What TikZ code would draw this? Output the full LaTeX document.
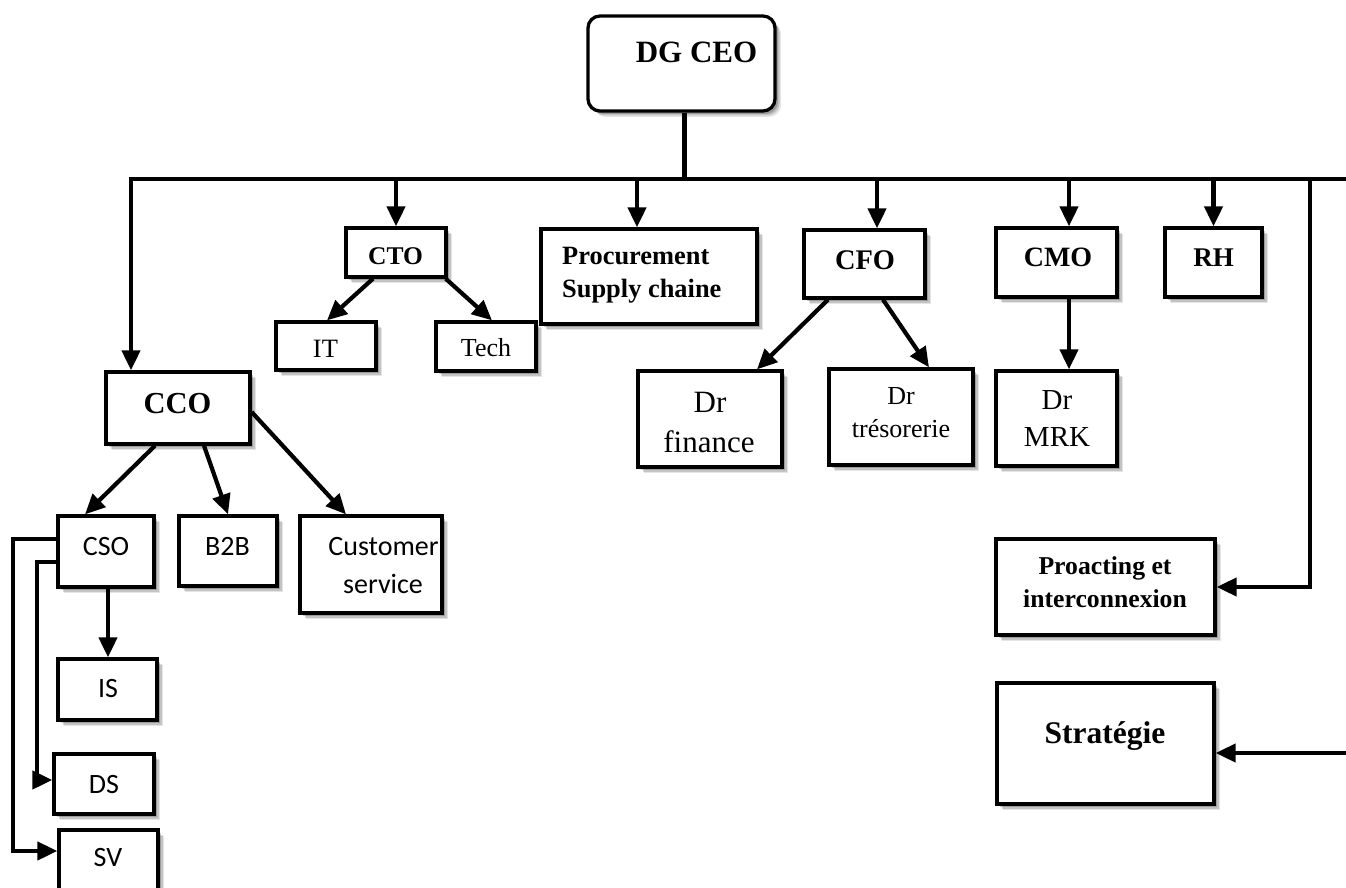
\documentclass[tikz,border=0pt]{standalone}
\usepackage{fontspec}
\setmainfont{Liberation Serif}
\newfontfamily\calib{Carlito}
\usetikzlibrary{arrows.meta,shadows,calc}
\begin{document}
\begin{tikzpicture}[x=1pt,y=-1pt,
  soft shadow/.style={
    drop shadow={shadow xshift=6pt, shadow yshift=-6pt, fill=black, opacity=0.10},
    drop shadow={shadow xshift=4.5pt, shadow yshift=-4.5pt, fill=black, opacity=0.15},
    drop shadow={shadow xshift=3pt, shadow yshift=-3pt, fill=black, opacity=0.2}},
  box/.style={draw, line width=3.3pt, fill=white, inner sep=0pt, soft shadow},
  conn/.style={line width=4.2pt, -{Triangle[length=20pt,width=18pt]}},
  wire/.style={line width=4.2pt},
  lbl/.style={anchor=base, inner sep=0pt},
  tb/.style={lbl, font=\fontsize{#1}{#1}\selectfont\bfseries},
  tr/.style={lbl, font=\fontsize{#1}{#1}\selectfont},
  tc/.style={lbl, font=\fontsize{#1}{#1}\selectfont\calib}]
\useasboundingbox (0,0) rectangle (1346,888);

% boxes
\node[box, rounded corners=12pt, minimum width=187pt, minimum height=95pt] (ceo) at (681.5,63.5) {};
\node[box, minimum width=100pt, minimum height=49pt] (cto) at (396,252.5) {};
\node[box, minimum width=100pt, minimum height=48pt] (it) at (326,346) {};
\node[box, minimum width=100pt, minimum height=49pt] (tech) at (486,346.5) {};
\node[box, minimum width=144pt, minimum height=72pt] (cco) at (178,408) {};
\node[box, minimum width=216pt, minimum height=95pt] (proc) at (649,276.5) {};
\node[box, minimum width=121pt, minimum height=68pt] (cfo) at (864.5,264) {};
\node[box, minimum width=144pt, minimum height=96pt] (drfin) at (710,419) {};
\node[box, minimum width=144pt, minimum height=96pt] (drtres) at (901,417) {};
\node[box, minimum width=121pt, minimum height=69pt] (cmo) at (1056.5,262.5) {};
\node[box, minimum width=97pt, minimum height=69pt] (rh) at (1213.5,262.5) {};
\node[box, minimum width=121pt, minimum height=95pt] (drmrk) at (1056.5,418.5) {};
\node[box, minimum width=219pt, minimum height=96pt] (proact) at (1105.5,587) {};
\node[box, minimum width=217pt, minimum height=121pt] (strat) at (1105.5,743.5) {};
\node[box, minimum width=96pt, minimum height=71pt] (cso) at (106,551.5) {};
\node[box, minimum width=98pt, minimum height=70pt] (b2b) at (228,551) {};
\node[box, minimum width=142pt, minimum height=97pt] (cust) at (371,564.5) {};
\node[box, minimum width=99pt, minimum height=61pt] (is) at (107.5,689.5) {};
\node[box, minimum width=100pt, minimum height=60pt] (ds) at (104,784) {};
\node[box, minimum width=99pt, minimum height=72pt] (sv) at (108.5,866) {};

% labels
\node[tb=31] (ceo-t) at (696.5,63) {DG CEO};
\node[tb=25.5] (cto-t) at (395.5,264) {CTO};
\node[tr=26.5] (it-t) at (325.5,357) {IT};
\node[tr=26] (tech-t) at (486,356) {Tech};
\node[tb=30.5] (cco-t) at (177.5,413) {CCO};
\node[tb=26.4, anchor=base west] (proc-t1) at (562,264) {Procurement};
\node[tb=26.4, anchor=base west] (proc-t2) at (562,297) {Supply chaine};
\node[tb=28.4] (cfo-t) at (865,269) {CFO};
\node[tr=31] (drfin-t1) at (710,412) {Dr};
\node[tr=31] (drfin-t2) at (709,452) {finance};
\node[tr=26] (drtres-t1) at (901,404) {Dr};
\node[tr=26] (drtres-t2) at (901,437) {trésorerie};
\node[tb=28] (cmo-t) at (1058,266) {CMO};
\node[tb=27] (rh-t) at (1213.5,266) {RH};
\node[tr=29] (drmrk-t1) at (1057,409) {Dr};
\node[tr=29] (drmrk-t2) at (1057,446) {MRK};
\node[tb=25.7] (proact-t1) at (1105,574) {Proacting et};
\node[tb=25.7] (proact-t2) at (1105,607) {interconnexion};
\node[tb=31.5] (strat-t) at (1105,743) {Stratégie};
\node[tc=28] (cso-t) at (106,555) {CSO};
\node[tc=28] (b2b-t) at (227.5,555) {B2B};
\node[tc=28] (cust-t1) at (383.5,555) {Customer};
\node[tc=28] (cust-t2) at (383,593) {service};
\node[tc=28] (is-t) at (108,697) {IS};
\node[tc=28] (ds-t) at (104,793) {DS};
\node[tc=28] (sv-t) at (108,866) {SV};

% attachment points
\coordinate (busL) at (131,179);
\coordinate (busR) at (1346,179);
\coordinate (busP) at (1310,179);
\coordinate (stratR) at (1346,753);
\coordinate (ceoS) at ($(ceo.south)+(3,0)$);
\coordinate (ccoN) at ($(cco.north)+(-47,0)$);
\coordinate (procN) at ($(proc.north)+(-12,0)$);
\coordinate (cfoN) at ($(cfo.north)+(12.5,0)$);
\coordinate (cmoN) at ($(cmo.north)+(12.5,0)$);
\coordinate (cmoS) at ($(cmo.south)+(12.5,0)$);
\coordinate (mrkN) at ($(drmrk.north)+(12.5,0)$);

% main bus
\draw[wire] (ceoS) -- (ceoS |- busL);
\draw[wire, line cap=rect] (busL) -- (busR);

% arrows from the bus
\draw[conn] (busL) -- (ccoN);
\draw[conn] (cto.north |- busL) -- (cto.north);
\draw[conn] (procN |- busL) -- (procN);
\draw[conn] (cfoN |- busL) -- (cfoN);
\draw[conn] (cmoN |- busL) -- (cmoN);
\draw[conn] (rh.north |- busL) -- (rh.north);
\draw[conn] (busP) -- (busP |- proact.east) -- (proact.east);
\draw[conn] (stratR) -- (strat.east |- stratR);

% second level
\draw[conn] ($(cto.south)+(-23,0)$) -- ($(it.north)+(1,0)$);
\draw[conn] ($(cto.south east)+(-2,0)$) -- ($(tech.north)+(6,0)$);
\draw[conn] ($(cfo.south)+(-36.5,0)$) -- ($(drfin.north)+(47,0)$);
\draw[conn] ($(cfo.south)+(18.5,0)$) -- ($(drtres.north)+(28,0)$);
\draw[conn] (cmoS) -- (mrkN);
\draw[conn] ($(cco.south)+(-23,0)$) -- ($(cso.north)+(-21,0)$);
\draw[conn] ($(cco.south)+(26,0)$) -- (b2b.north);
\draw[conn] ($(cco.east)+(0,4)$) -- ($(cust.north)+(-25,0)$);

% sales branch
\draw[conn] ($(cso.south)+(2,0)$) -- ($(is.north)+(0.5,0)$);
\draw[conn] ($(cso.west)+(0,-12.5)$) -- (13,539) -- (13,851) -- (sv.west |- 0,851);
\draw[conn] ($(cso.west)+(0,10.5)$) -- (37,562) -- (37,780) -- (ds.west |- 0,780);
\end{tikzpicture}
\end{document}
